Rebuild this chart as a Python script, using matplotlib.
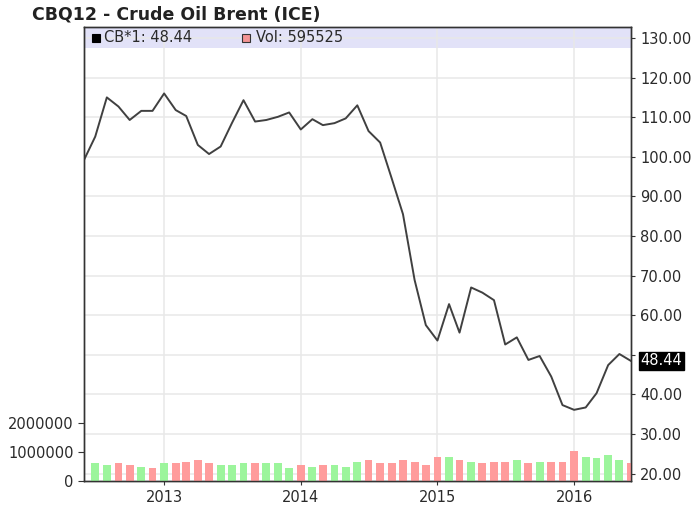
import numpy as np
import matplotlib
matplotlib.use("Agg")
import matplotlib.pyplot as plt
from matplotlib.patches import Rectangle
from matplotlib.ticker import FuncFormatter
import matplotlib.transforms as mtransforms

# monthly closes, Jun 2012 .. Jun 2016
price = [99.2, 105.1, 115.0, 112.7, 109.3, 111.6, 111.6,
         116.0, 111.8, 110.3, 103.0, 100.7, 102.6, 108.5, 114.3, 108.9, 109.3, 110.1, 111.2,
         106.9, 109.5, 108.0, 108.5, 109.7, 113.0, 106.5, 103.6, 94.5, 85.5, 68.9, 57.5,
         53.6, 62.8, 55.6, 67.0, 65.7, 63.8, 52.6, 54.4, 48.7, 49.7, 44.5, 37.3,
         36.1, 36.7, 40.3, 47.4, 50.2, 48.44]

# monthly volume, Jul 2012 .. Jun 2016
volume = [610e3, 550e3, 610e3, 550e3, 490e3, 440e3,
          610e3, 610e3, 670e3, 720e3, 610e3, 550e3, 550e3, 610e3, 610e3, 610e3, 610e3, 440e3,
          550e3, 490e3, 550e3, 550e3, 490e3, 670e3, 720e3, 610e3, 610e3, 720e3, 670e3, 550e3,
          840e3, 820e3, 720e3, 670e3, 610e3, 670e3, 670e3, 720e3, 610e3, 670e3, 670e3, 670e3,
          1040e3, 820e3, 780e3, 900e3, 720e3, 610e3]
vol_dir = list("ggrrgr" "grrrrgggrggg" "rgrgggrrrrrr" "rgrgrrrgrgrr" "rggggr")

years = ['2013', '2014', '2015', '2016']
price_ticks = [20, 30, 40, 50, 60, 70, 80, 90, 100, 110, 120, 130]
vol_ticks = [0, 1000000, 2000000]

months = np.arange('2012-06', '2016-07', dtype='datetime64[M]').astype('datetime64[D]')
vol_months = months[1:]

W, H = 693, 509
fig = plt.figure(figsize=(W / 100, H / 100), dpi=100)
ax = fig.add_axes([84 / W, 1 - 481 / H, (631 - 84) / W, (481 - 27) / H])
axv = ax.twinx()   # volume axis, moved to the left below

# price axis (right side)
ax.plot(months, price, color='#404040', lw=1.4, zorder=3)
ax.set_ylim(18.13, 132.78)
ax.set_xlim(months[0], months[-1])
ax.yaxis.tick_right()
ax.set_yticks(price_ticks)
# 50.00 label is hidden behind the last-value box in the original
ax.set_yticklabels(['' if t == 50 else '%.2f' % t for t in price_ticks])
year_dates = [np.datetime64(y + '-01-01') for y in years]
ax.set_xticks(year_dates)
ax.set_xticklabels(years)
ax.grid(True, color='#e8e8e8', lw=1.1)
ax.set_axisbelow(True)
ax.tick_params(axis='both', labelsize=10.5, length=3, color='#333333', labelcolor='#2a2a2a')

# legend band
ax.add_patch(Rectangle((0, 0.953), 1, 0.047, transform=ax.transAxes,
                       facecolor='#e2e2f8', edgecolor='none', zorder=0.3))

# last value marker
trans = mtransforms.blended_transform_factory(ax.transAxes, ax.transData)
ax.text(1.017, price[-1], '%.2f' % price[-1], transform=trans, ha='left', va='center',
        color='white', fontsize=10.5, clip_on=False,
        bbox=dict(boxstyle='square,pad=0.12', facecolor='black', edgecolor='black'))

# volume bars (left side)
colors = ['#9cf59c' if d == 'g' else '#ff9c9c' for d in vol_dir]
axv.bar(vol_months, volume, width=21, color=colors, zorder=2)
axv.set_ylim(0, 15.66e6)
axv.yaxis.tick_left()
axv.set_yticks(vol_ticks)
axv.yaxis.set_major_formatter(FuncFormatter(lambda v, p: '%d' % v))
axv.tick_params(axis='y', labelsize=10.5, length=4, color='#333333', labelcolor='#2a2a2a')

for a in (ax, axv):
    for s in a.spines.values():
        s.set_color('#333333')
        s.set_linewidth(1.0)

fig.text(32 / W, 1 - 15 / H, 'CBQ12 - Crude Oil Brent (ICE)', fontsize=12.5,
         fontweight='bold', color='#222222', va='center', ha='left')

fig.add_artist(Rectangle((92 / W, 1 - 42 / H), 8 / W, 8 / H, transform=fig.transFigure,
                         facecolor='black', edgecolor='black', lw=0.8))
fig.text(104 / W, 1 - 37 / H, 'CB*1: 48.44', fontsize=10.5, color='#2a2a2a', va='center')
fig.add_artist(Rectangle((242 / W, 1 - 42 / H), 8 / W, 8 / H, transform=fig.transFigure,
                         facecolor='#f49494', edgecolor='#333333', lw=0.8))
fig.text(256 / W, 1 - 37 / H, 'Vol: 595525', fontsize=10.5, color='#2a2a2a', va='center')

fig.savefig('out.png', dpi=100)
